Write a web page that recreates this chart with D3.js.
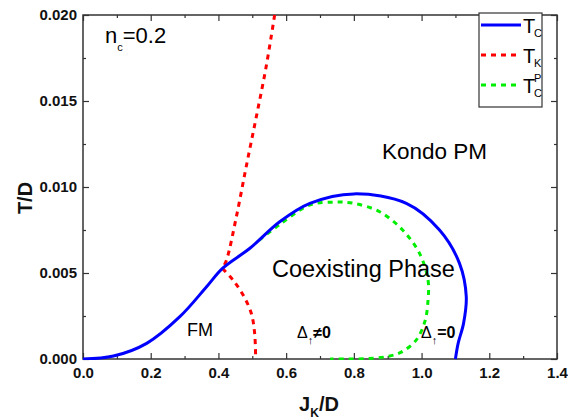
<!DOCTYPE html>
<html>
<head>
<meta charset="utf-8">
<script src="https://cdn.jsdelivr.net/npm/d3@7"></script>
<style>
  html, body { margin: 0; padding: 0; background: #fff; }
  svg { display: block; font-family: "Liberation Sans", Arial, sans-serif; }
</style>
</head>
<body>
<svg id="chart" width="568" height="420"></svg>
<script>
// Phase diagram T/D vs J_K/D at n_c = 0.2

// Ferromagnetic transition T_C (blue, solid)
const tcJ = [0, 0.09, 0.188, 0.286, 0.365, 0.412, 0.493, 0.581, 0.67, 0.8, 0.955, 1.053, 1.112, 1.132, 1.124, 1.108, 1.1];
const tcT = [0, 0.00017, 0.00091, 0.00246, 0.0042, 0.00527, 0.00644, 0.00798, 0.00905, 0.0096, 0.00905, 0.0075, 0.00556, 0.00362, 0.00207, 0.00091, 0];

// Kondo temperature T_K (red, dashed): upper and lower branches meet at the T_C line
const tkUpperJ = [0.566, 0.541, 0.512, 0.482, 0.453, 0.424, 0.412];
const tkUpperT = [0.020, 0.017, 0.01409, 0.01118, 0.00827, 0.00576, 0.00527];
const tkLowerJ = [0.412, 0.443, 0.473, 0.497, 0.507, 0.51];
const tkLowerT = [0.00527, 0.00459, 0.00372, 0.00266, 0.00149, 0];

// T_C^P (green, dashed)
const tcpJ = [0.52, 0.58, 0.669, 0.745, 0.8, 0.876, 0.944, 0.994, 1.019, 1.019, 1.01, 0.984, 0.94, 0.9, 0.84, 0.78, 0.73];
const tcpT = [0.0069, 0.0078, 0.00895, 0.00912, 0.00905, 0.00856, 0.0075, 0.00614, 0.0046, 0.0034, 0.0022, 0.0011, 0.0004, 0.00015, 0.00002, 0, 0];

// Axis ticks
const xTicks = [0, 0.2, 0.4, 0.6, 0.8, 1.0, 1.2, 1.4];
const xMinorTicks = [0.1, 0.3, 0.5, 0.7, 0.9, 1.1, 1.3];
const yTicks = [0, 0.005, 0.010, 0.015, 0.020];
const yMinorTicks = [0.0025, 0.0075, 0.0125, 0.0175];

const svg = d3.select("#chart");
const plotL = 83, plotR = 557, plotT = 15, plotB = 359;

const x = d3.scaleLinear().domain([0, 1.4]).range([plotL, plotR]);
const y = d3.scaleLinear().domain([0, 0.02]).range([plotB, plotT]);

const axisColor = "#333";

// Plot frame
svg.append("rect")
  .attr("x", plotL).attr("y", plotT)
  .attr("width", plotR - plotL).attr("height", plotB - plotT)
  .attr("fill", "none").attr("stroke", axisColor).attr("stroke-width", 1.5);

function styleAxis(g) {
  g.select(".domain").remove();
  g.selectAll(".tick line").attr("stroke", axisColor).attr("stroke-width", 1.2);
  g.selectAll(".tick text")
    .attr("fill", "#111")
    .attr("font-size", 15)
    .attr("font-weight", "bold")
    .attr("font-family", "Liberation Sans, Arial, sans-serif");
}

// Bottom axis (labelled) with inward ticks
svg.append("g").attr("transform", `translate(0,${plotB})`)
  .call(d3.axisBottom(x).tickValues(xTicks).tickSize(-6).tickPadding(8).tickFormat(d3.format(".1f")))
  .call(styleAxis);
svg.append("g").attr("transform", `translate(0,${plotB})`)
  .call(d3.axisBottom(x).tickValues(xMinorTicks).tickSize(-3).tickFormat(""))
  .call(styleAxis);
// Top axis mirror
svg.append("g").attr("transform", `translate(0,${plotT})`)
  .call(d3.axisTop(x).tickValues(xTicks).tickSize(-6).tickFormat(""))
  .call(styleAxis);
svg.append("g").attr("transform", `translate(0,${plotT})`)
  .call(d3.axisTop(x).tickValues(xMinorTicks).tickSize(-3).tickFormat(""))
  .call(styleAxis);

// Left axis (labelled)
svg.append("g").attr("transform", `translate(${plotL},0)`)
  .call(d3.axisLeft(y).tickValues(yTicks).tickSize(-6).tickPadding(6).tickFormat(d3.format(".3f")))
  .call(styleAxis);
svg.append("g").attr("transform", `translate(${plotL},0)`)
  .call(d3.axisLeft(y).tickValues(yMinorTicks).tickSize(-3).tickFormat(""))
  .call(styleAxis);
// Right axis mirror
svg.append("g").attr("transform", `translate(${plotR},0)`)
  .call(d3.axisRight(y).tickValues(yTicks).tickSize(-6).tickFormat(""))
  .call(styleAxis);
svg.append("g").attr("transform", `translate(${plotR},0)`)
  .call(d3.axisRight(y).tickValues(yMinorTicks).tickSize(-3).tickFormat(""))
  .call(styleAxis);

// Curves
svg.append("clipPath").attr("id", "plotClip")
  .append("rect").attr("x", plotL).attr("y", plotT - 1)
  .attr("width", plotR - plotL).attr("height", plotB - plotT + 2);

const line = d3.line().x(d => x(d[0])).y(d => y(d[1])).curve(d3.curveCatmullRom.alpha(0.5));
const zipPts = (a, b) => a.map((v, i) => [v, b[i]]);

const curves = svg.append("g").attr("clip-path", "url(#plotClip)");

curves.append("path").datum(zipPts(tcpJ, tcpT))
  .attr("d", line).attr("fill", "none")
  .attr("stroke", "#00ee00").attr("stroke-width", 3).attr("stroke-dasharray", "5,5");

curves.append("path").datum(zipPts(tkUpperJ, tkUpperT))
  .attr("d", line).attr("fill", "none")
  .attr("stroke", "#ff0000").attr("stroke-width", 3).attr("stroke-dasharray", "5,5");
curves.append("path").datum(zipPts(tkLowerJ, tkLowerT))
  .attr("d", line).attr("fill", "none")
  .attr("stroke", "#ff0000").attr("stroke-width", 3).attr("stroke-dasharray", "5,5");

curves.append("path").datum(zipPts(tcJ, tcT))
  .attr("d", line).attr("fill", "none")
  .attr("stroke", "#0000ff").attr("stroke-width", 3);

// Axis titles
svg.append("text")
  .attr("transform", `translate(32,198) rotate(-90)`)
  .attr("text-anchor", "middle")
  .attr("font-size", 20).attr("font-weight", "bold").attr("fill", "#111")
  .text("T/D");

const xt = svg.append("text")
  .attr("x", 319).attr("y", 411)
  .attr("text-anchor", "middle")
  .attr("font-size", 20).attr("font-weight", "bold").attr("fill", "#111");
xt.append("tspan").text("J");
xt.append("tspan").attr("font-size", 12).attr("dy", 6).text("K");
xt.append("tspan").attr("dy", -6).text("/D");

// Region labels
const nc = svg.append("text").attr("x", 105).attr("y", 43).attr("font-size", 22).attr("fill", "#000");
nc.append("tspan").text("n");
nc.append("tspan").attr("font-size", 11).attr("dy", 8).text("c");
nc.append("tspan").attr("dy", -8).text("=0.2");

svg.append("text").attr("x", 382).attr("y", 159).attr("font-size", 22.5).attr("fill", "#000").text("Kondo PM");
svg.append("text").attr("x", 272).attr("y", 277).attr("font-size", 23.5).attr("fill", "#000").text("Coexisting Phase");
svg.append("text").attr("x", 187).attr("y", 336).attr("font-size", 18).attr("fill", "#000").text("FM");

function deltaLabel(px, rel) {
  const t = svg.append("text").attr("x", px).attr("y", 338).attr("font-size", 16).attr("fill", "#000");
  t.append("tspan").text("Δ");
  t.append("tspan").attr("font-size", 11).attr("dy", 6).text("↑");
  t.append("tspan").attr("dy", -6).attr("font-weight", "bold").text(rel + "0");
}
deltaLabel(297, "≠");
deltaLabel(421, "=");

// Legend
const lg = svg.append("g");
lg.append("rect").attr("x", 479).attr("y", 13).attr("width", 63).attr("height", 94)
  .attr("fill", "#fff").attr("stroke", axisColor).attr("stroke-width", 1.2);

const legendItems = [
  { y: 25, color: "#0000ff", dash: null, sub: "C", sup: null },
  { y: 55, color: "#ff0000", dash: "5,5", sub: "K", sup: null },
  { y: 85, color: "#00ee00", dash: "5,5", sub: "C", sup: "P" }
];
legendItems.forEach(it => {
  lg.append("line").attr("x1", 481).attr("x2", 521).attr("y1", it.y).attr("y2", it.y)
    .attr("stroke", it.color).attr("stroke-width", 3)
    .attr("stroke-dasharray", it.dash);
  lg.append("text").attr("x", 523).attr("y", it.y + 8).attr("font-size", 20).attr("fill", "#000").text("T");
  lg.append("text").attr("x", 534).attr("y", it.y + 12).attr("font-size", 11).attr("fill", "#000").text(it.sub);
  if (it.sup) {
    lg.append("text").attr("x", 534).attr("y", it.y - 3).attr("font-size", 11).attr("fill", "#000").text(it.sup);
  }
});
</script>
</body>
</html>
